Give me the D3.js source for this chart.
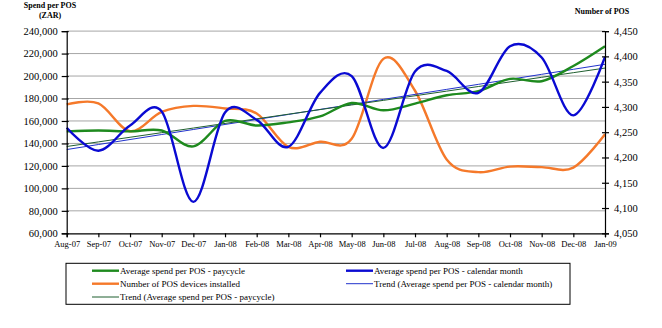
<!DOCTYPE html>
<html><head><meta charset="utf-8">
<script src="https://cdn.jsdelivr.net/npm/d3@7"></script>
<style>
body{margin:0;background:#fff;}
svg text{font-family:"Liberation Serif","Times New Roman",serif;fill:#000;}
</style></head>
<body><svg id="c" width="662" height="328"></svg>
<script>
const months = ["Aug-07","Sep-07","Oct-07","Nov-07","Dec-07","Jan-08","Feb-08","Mar-08","Apr-08","May-08","Jun-08","Jul-08","Aug-08","Sep-08","Oct-08","Nov-08","Dec-08","Jan-09"];
const spendPaycycle = [150700,151500,150700,151500,137400,160000,156000,158800,164000,176000,169500,175400,182900,186500,197500,195400,208900,226500];
const spendCalendar = [154000,133500,156000,168500,88000,167500,161000,137000,185000,200000,136000,204000,204500,185000,226500,216500,165000,217000];
const posInstalled = [4305,4307,4252,4290,4302,4297,4287,4221,4231,4237,4395,4332,4196,4171,4182,4181,4180,4246];
const leftTicks = [60000,80000,100000,120000,140000,160000,180000,200000,220000,240000];
const rightTicks = [4050,4100,4150,4200,4250,4300,4350,4400,4450];
const legendLabels = ["Average spend per POS - paycycle","Average spend per POS - calendar month","Number of POS devices installed","Trend (Average spend per POS - calendar month)","Trend (Average spend per POS - paycycle)"];

const svg = d3.select("#c");
const x = d3.scalePoint().domain(months).range([66.7,605]);
const yL = d3.scaleLinear().domain([60000,240000]).range([233.3,31.1]);
const yR = d3.scaleLinear().domain([4050,4450]).range([233.3,31.1]);

// gridlines
svg.append("g").selectAll("line").data(leftTicks.slice(1)).join("line")
  .attr("x1",66.7).attr("x2",605).attr("y1",d=>yL(d)).attr("y2",d=>yL(d))
  .attr("stroke","#a6a6a6").attr("stroke-width",1);

function regress(vals){
  const n=vals.length; let sx=0,sy=0,sxx=0,sxy=0;
  vals.forEach((v,i)=>{sx+=i;sy+=v;sxx+=i*i;sxy+=i*v;});
  const b=(n*sxy-sx*sy)/(n*sxx-sx*sx), a=(sy-b*sx)/n;
  return vals.map((v,i)=>a+b*i);
}
const trendPay = regress(spendPaycycle);
const trendCal = regress(spendCalendar);

const green="#1e8a1e", blue="#0a0ad2", orange="#f5792a", tgreen="#1f5f2f", tblue="#2233cc";
const smooth = d3.curveCardinal.tension(0);
const lineL = d3.line().x((d,i)=>x(months[i])).y(d=>yL(d));
const lineLs = d3.line().x((d,i)=>x(months[i])).y(d=>yL(d)).curve(smooth);
const lineRs = d3.line().x((d,i)=>x(months[i])).y(d=>yR(d)).curve(smooth);

svg.append("path").attr("d",lineRs(posInstalled)).attr("fill","none").attr("stroke",orange).attr("stroke-width",2.4);
svg.append("path").attr("d",lineL(trendCal)).attr("fill","none").attr("stroke",tblue).attr("stroke-width",1);
svg.append("path").attr("d",lineL(trendPay)).attr("fill","none").attr("stroke",tgreen).attr("stroke-width",1);
svg.append("path").attr("d",lineLs(spendPaycycle)).attr("fill","none").attr("stroke",green).attr("stroke-width",2.4);
svg.append("path").attr("d",lineLs(spendCalendar)).attr("fill","none").attr("stroke",blue).attr("stroke-width",2.4);

// axes
const axL = svg.append("g").attr("transform","translate(66.7,0)")
  .call(d3.axisLeft(yL).tickValues(leftTicks).tickFormat(d3.format(",")).tickSizeOuter(0).tickSize(5).tickPadding(4));
const axR = svg.append("g").attr("transform","translate(605,0)")
  .call(d3.axisRight(yR).tickValues(rightTicks).tickFormat(d3.format(",")).tickSizeOuter(0).tickSize(4).tickPadding(5));
const axB = svg.append("g").attr("transform","translate(0,233.3)")
  .call(d3.axisBottom(x).tickSizeOuter(0).tickSize(4).tickPadding(4));
[axL,axR,axB].forEach(g=>{
  g.select(".domain").attr("stroke","#000").attr("stroke-width",1.2);
  g.selectAll(".tick line").attr("stroke","#000").attr("stroke-width",1.2);
  g.selectAll("text").attr("font-family","Liberation Serif, serif").attr("fill","#000");
});
axL.selectAll(".tick line").attr("x1",2);
axR.selectAll(".tick line").attr("x1",-3);
axL.selectAll("text").attr("font-size","10.5px");
axR.selectAll("text").attr("font-size","10.5px");
axB.selectAll("text").attr("font-size","8.5px");

// axis titles
svg.append("text").attr("x",50).attr("y",8).attr("text-anchor","middle").attr("font-size","8px").attr("font-weight","bold").text("Spend per POS");
svg.append("text").attr("x",50).attr("y",18).attr("text-anchor","middle").attr("font-size","8px").attr("font-weight","bold").text("(ZAR)");
svg.append("text").attr("x",602).attr("y",14).attr("text-anchor","middle").attr("font-size","8px").attr("font-weight","bold").text("Number of POS");

// legend
svg.append("rect").attr("x",66).attr("y",263.3).attr("width",504).attr("height",41).attr("fill","#fff").attr("stroke","#000").attr("stroke-width",1);
const legItems = [
  {label:legendLabels[0],color:green,w:2.4,x:92,y:270.7},
  {label:legendLabels[1],color:blue,w:2.4,x:346,y:270.7},
  {label:legendLabels[2],color:orange,w:2.4,x:92,y:283.7},
  {label:legendLabels[3],color:tblue,w:1,x:346,y:283.7},
  {label:legendLabels[4],color:tgreen,w:1,x:92,y:297}
];
const lg = svg.append("g").selectAll("g").data(legItems).join("g");
lg.append("line").attr("x1",d=>d.x).attr("x2",d=>d.x+27).attr("y1",d=>d.y).attr("y2",d=>d.y).attr("stroke",d=>d.color).attr("stroke-width",d=>d.w);
lg.append("text").attr("x",d=>d.x+28).attr("y",d=>d.y).attr("dy","0.35em").attr("font-size","9px").text(d=>d.label);
</script></body></html>
